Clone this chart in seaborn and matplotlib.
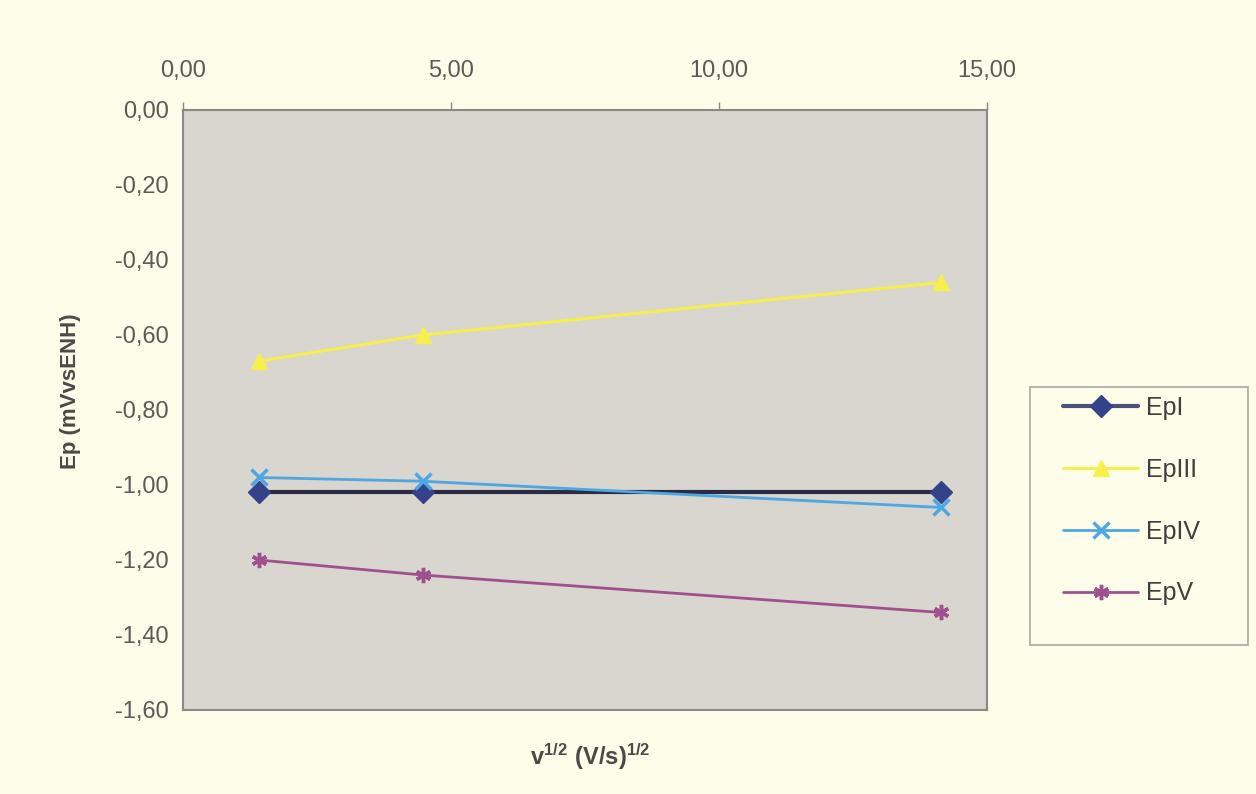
import pandas as pd
import numpy as np
import matplotlib
matplotlib.use('Agg')
import matplotlib.pyplot as plt
import matplotlib.patches as mpatches
import seaborn as sns
from matplotlib.ticker import FuncFormatter

# datos
v_sqrt = [1.41, 4.47, 14.14]
series = ['EpI', 'EpIII', 'EpIV', 'EpV']
ep_I = [-1.02, -1.02, -1.02]
ep_III = [-0.67, -0.60, -0.46]
ep_IV = [-0.98, -0.99, -1.06]
ep_V = [-1.20, -1.24, -1.34]

colores = ['#2a2c45', '#f7f04c', '#4ea6e2', '#a0508f']
marcadores = ['D', '^', 'x', (6, 2, 0)]
grosor = [3, 2.2, 2, 2]

df = pd.DataFrame({
    'x': v_sqrt * 4,
    'Ep': ep_I + ep_III + ep_IV + ep_V,
    'serie': np.repeat(series, len(v_sqrt)),
})

sns.set_style('white')
plt.rcParams['font.family'] = ['Liberation Sans', 'DejaVu Sans']
plt.rcParams['mathtext.fontset'] = 'custom'
plt.rcParams['mathtext.rm'] = 'Liberation Sans'
plt.rcParams['mathtext.bf'] = 'Liberation Sans:bold'

fig = plt.figure(figsize=(12.56, 7.94), dpi=100, facecolor='#fefde9')
ax = fig.add_axes([0.1457, 0.1058, 0.6401, 0.7557])
ax.set_facecolor('#d8d6ce')

for s, c, m, lw in zip(series, colores, marcadores, grosor):
    sns.lineplot(data=df[df['serie'] == s], x='x', y='Ep', color=c, marker=m,
                 markersize=11, markeredgewidth=2.5 if m in ('x', (6, 2, 0)) else 1,
                 markeredgecolor=c, linewidth=lw, label=s, ax=ax)

# marcador azul de EpI
ax.lines[0].set_markerfacecolor('#34428a')
ax.lines[0].set_markeredgecolor('#34428a')

ax.set_xlim(0, 15)
ax.set_ylim(-1.6, 0)
ax.set_xticks([0, 5, 10, 15])
ax.set_yticks(np.arange(-1.6, 0.01, 0.2))
fmt = FuncFormatter(lambda v, p: f'{v:.2f}'.replace('.', ',').replace('-0,00', '0,00'))
ax.xaxis.set_major_formatter(fmt)
ax.yaxis.set_major_formatter(fmt)
ax.xaxis.tick_top()
ax.tick_params(axis='both', direction='out', length=6, width=1, color='#8a8a85',
               labelsize=17, labelcolor='#5a5a58', pad=4)
ax.tick_params(axis='x', pad=14)
for sp in ax.spines.values():
    sp.set_color('#8a8a85')
    sp.set_linewidth(1.5)

ax.set_ylabel('Ep (mVvsENH)', fontsize=16, fontweight='bold', color='#4a4a48')
ax.yaxis.set_label_coords(-0.127, 0.532)
ax.set_xlabel('')
fig.text(0.47, 0.047, r'$\mathbf{v^{1/2}\ (V/s)^{1/2}}$', fontsize=17, color='#4a4a48',
         ha='center', va='center')

# recuadro de la leyenda (detrás de todo)
caja = mpatches.Rectangle((0.820, 0.1877), 0.1736, 0.325, transform=fig.transFigure,
                          facecolor='#fefde9', edgecolor='#a9a8a0', linewidth=1.2, zorder=-1)
fig.patches.append(caja)

handles, labels = ax.get_legend_handles_labels()
leg = ax.legend(handles, labels, loc='upper left',
                bbox_to_anchor=(1063 / 1256, 1 - 396 / 794),
                bbox_transform=fig.transFigure, fontsize=18,
                labelspacing=1.51, handlelength=3.0, handletextpad=0.3, borderpad=0,
                borderaxespad=0, frameon=False)
for t in leg.get_texts():
    t.set_color('#403f3d')
lh = leg.legend_handles
lh[0].set_color('#4b5079')
lh[0].set_markerfacecolor('#34428a')
lh[0].set_markeredgecolor('#34428a')

fig.savefig('out.png', dpi=100, facecolor=fig.get_facecolor())
